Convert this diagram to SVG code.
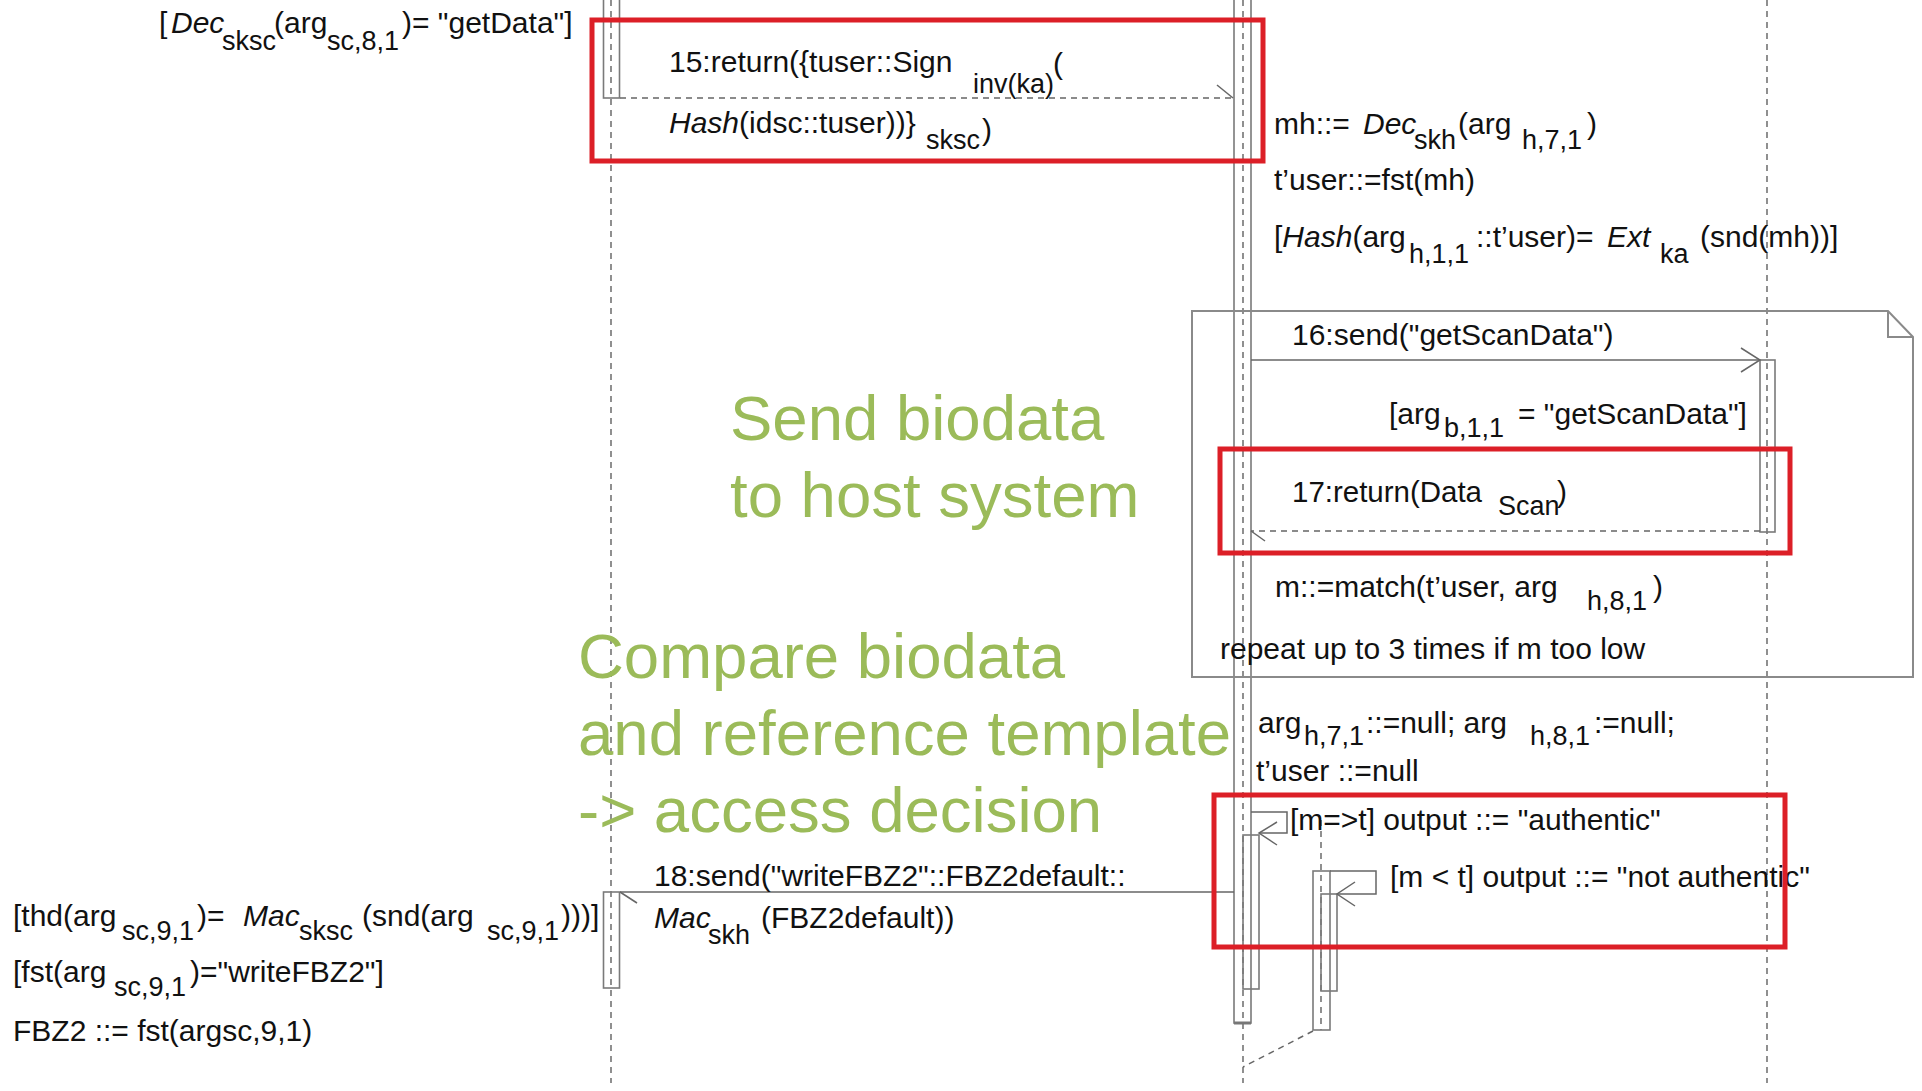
<svg xmlns="http://www.w3.org/2000/svg" width="1922" height="1091" viewBox="0 0 1922 1091">
<style>
.t{font-family:"Liberation Sans",Arial,sans-serif;font-size:30px;fill:#111}
.s{font-size:27px}
.i{font-style:italic}
.g{font-family:"Liberation Sans",Arial,sans-serif;font-size:63.5px;fill:#9BBB59}
.life{stroke:#555;stroke-width:1.3;stroke-dasharray:6 5;fill:none}
.bar{fill:none;stroke:#7a7a7a;stroke-width:1.6}
.msg{stroke:#666;stroke-width:1.5;fill:none}
.ret{stroke:#666;stroke-width:1.5;stroke-dasharray:6 5;fill:none}
.hl{fill:none;stroke:#dc1f27;stroke-width:5}
.frame{fill:none;stroke:#8a8a8a;stroke-width:2}
</style>
<rect x="0" y="0" width="1922" height="1091" fill="#fff"/>

<g id="lifeline-sc">
  <line class="life" x1="611" y1="0" x2="611" y2="1083"/>
  <rect class="bar" x="603.5" y="-2" width="16" height="100"/>
  <rect class="bar" x="603.5" y="892" width="16" height="96"/>
</g>
<g id="lifeline-h">
  <line class="life" x1="1243" y1="0" x2="1243" y2="1083"/>
  <rect class="bar" x="1234" y="-2" width="17" height="1025"/>
  <line x1="1234" y1="1023" x2="1251" y2="1023" stroke="#777" stroke-width="3"/>
  <rect class="bar" x="1243" y="835" width="16" height="154"/>
  <line class="life" x1="1321" y1="820" x2="1321" y2="1030"/>
  <rect class="bar" x="1313" y="871" width="17" height="159"/>
  <rect class="bar" x="1321" y="894" width="16" height="97"/>
</g>
<g id="lifeline-b">
  <line class="life" x1="1767" y1="0" x2="1767" y2="1083"/>
  <rect class="bar" x="1760" y="360" width="15" height="172"/>
</g>

<g id="loop-frame">
  <path class="frame" d="M1192,311 L1888,311 L1913,337 L1913,677 L1192,677 Z"/>
  <path class="frame" d="M1888,311 L1888,337 L1913,337" stroke-width="1.5"/>
</g>

<g id="connectors">
  <line class="ret" x1="620" y1="98" x2="1233" y2="98"/>
  <line class="msg" x1="1217" y1="85" x2="1233" y2="98"/>
  <line class="msg" x1="1251" y1="360" x2="1760" y2="360"/>
  <polyline class="msg" points="1741,348 1760,360 1741,372"/>
  <line class="ret" x1="1760" y1="531" x2="1251" y2="531"/>
  <line class="msg" x1="1251" y1="531" x2="1265" y2="541"/>
  <line class="msg" x1="1234" y1="892" x2="620" y2="892"/>
  <line class="msg" x1="620" y1="892" x2="637" y2="903"/>
  <polyline class="msg" points="1251,812 1287,812 1287,833 1259,833"/>
  <polyline class="msg" points="1277,822 1259,833 1277,845"/>
  <polyline class="msg" points="1330,871 1376,871 1376,894 1337,894"/>
  <polyline class="msg" points="1355,882 1337,894 1355,906"/>
  <line class="ret" x1="1313" y1="1031" x2="1243" y2="1067"/>
</g>

<g id="note-dec-getdata">
  <text class="t" x="159" y="33">[<tspan class="i" x="171">Dec</tspan><tspan class="s" x="222" y="50">sksc</tspan><tspan x="274" y="33">(arg</tspan><tspan class="s" x="327" y="50">sc,8,1</tspan><tspan x="402" y="33">)= "getData"]</tspan></text>
</g>
<g id="msg-15">
  <text class="t" x="669" y="72">15:return({tuser::Sign<tspan class="s" x="973" y="93">inv(ka)</tspan><tspan x="1053" y="74">(</tspan></text>
  <text class="t" x="669" y="133"><tspan class="i">Hash</tspan>(idsc::tuser))}<tspan class="s" x="926" y="149">sksc</tspan><tspan x="982" y="140">)</tspan></text>
</g>
<g id="note-host-verify">
  <text class="t" x="1274" y="134">mh::=<tspan class="i" x="1363">Dec</tspan><tspan class="s" x="1414" y="149">skh</tspan><tspan x="1458" y="134">(arg</tspan><tspan class="s" x="1522" y="149">h,7,1</tspan><tspan x="1587" y="134">)</tspan></text>
  <text class="t" x="1274" y="190">t’user::=fst(mh)</text>
  <text class="t" x="1274" y="247">[<tspan class="i">Hash</tspan>(arg<tspan class="s" x="1409" y="263">h,1,1</tspan><tspan x="1476" y="247">::t’user)=</tspan><tspan class="i" x="1607" y="247">Ext</tspan><tspan class="s" x="1660" y="263">ka</tspan><tspan x="1700" y="247">(snd(mh))]</tspan></text>
</g>
<g id="msg-16">
  <text class="t" x="1292" y="345">16:send("getScanData")</text>
  <text class="t" x="1389" y="424">[arg<tspan class="s" x="1444" y="437">b,1,1</tspan><tspan x="1518" y="424">= "getScanData"]</tspan></text>
</g>
<g id="msg-17">
  <text class="t" x="1292" y="502" textLength="190" lengthAdjust="spacingAndGlyphs">17:return(Data</text>
  <text class="t s" x="1498" y="515">Scan</text>
  <text class="t" x="1557" y="502">)</text>
</g>
<g id="note-match">
  <text class="t" x="1275" y="597">m::=match(t’user, arg<tspan class="s" x="1587" y="610">h,8,1</tspan><tspan x="1653" y="597">)</tspan></text>
  <text class="t" x="1220" y="659">repeat up to 3 times if m too low</text>
</g>
<g id="note-null">
  <text class="t" x="1258" y="733">arg<tspan class="s" x="1304" y="745">h,7,1</tspan><tspan x="1366" y="733">::=null; arg</tspan><tspan class="s" x="1530" y="745">h,8,1</tspan><tspan x="1594" y="733">:=null;</tspan></text>
  <text class="t" x="1256" y="781">t’user ::=null</text>
</g>
<g id="msg-authentic">
  <text class="t" x="1290" y="830">[m=&gt;t] output ::= "authentic"</text>
  <text class="t" x="1390" y="887">[m &lt; t] output ::= "not authentic"</text>
</g>
<g id="msg-18">
  <text class="t" x="654" y="886">18:send("writeFBZ2"::FBZ2default::</text>
  <text class="t" x="654" y="928"><tspan class="i">Mac</tspan><tspan class="s" x="708" y="944">skh</tspan><tspan x="761" y="928">(FBZ2default))</tspan></text>
</g>
<g id="note-fbz2">
  <text class="t" x="13" y="926">[thd(arg<tspan class="s" x="122" y="940">sc,9,1</tspan><tspan x="197" y="926">)=</tspan><tspan class="i" x="243" y="926">Mac</tspan><tspan class="s" x="299" y="940">sksc</tspan><tspan x="362" y="926">(snd(arg</tspan><tspan class="s" x="487" y="940">sc,9,1</tspan><tspan x="561" y="926">)))]</tspan></text>
  <text class="t" x="13" y="982">[fst(arg<tspan class="s" x="114" y="996">sc,9,1</tspan><tspan x="190" y="982">)="writeFBZ2"]</tspan></text>
  <text class="t" x="13" y="1041">FBZ2 ::= fst(argsc,9,1)</text>
</g>

<g id="highlights">
  <rect class="hl" x="592" y="20" width="671" height="141"/>
  <rect class="hl" x="1220" y="449" width="570" height="104"/>
  <rect class="hl" x="1214" y="795" width="571" height="152"/>
</g>

<g id="annotation-send">
  <text class="g" x="730" y="440">Send biodata</text>
  <text class="g" x="730" y="517">to host system</text>
</g>
<g id="annotation-compare">
  <text class="g" x="578" y="678">Compare biodata</text>
  <text class="g" x="578" y="755">and reference template</text>
  <text class="g" x="578" y="832">-&gt; access decision</text>
</g>
</svg>
